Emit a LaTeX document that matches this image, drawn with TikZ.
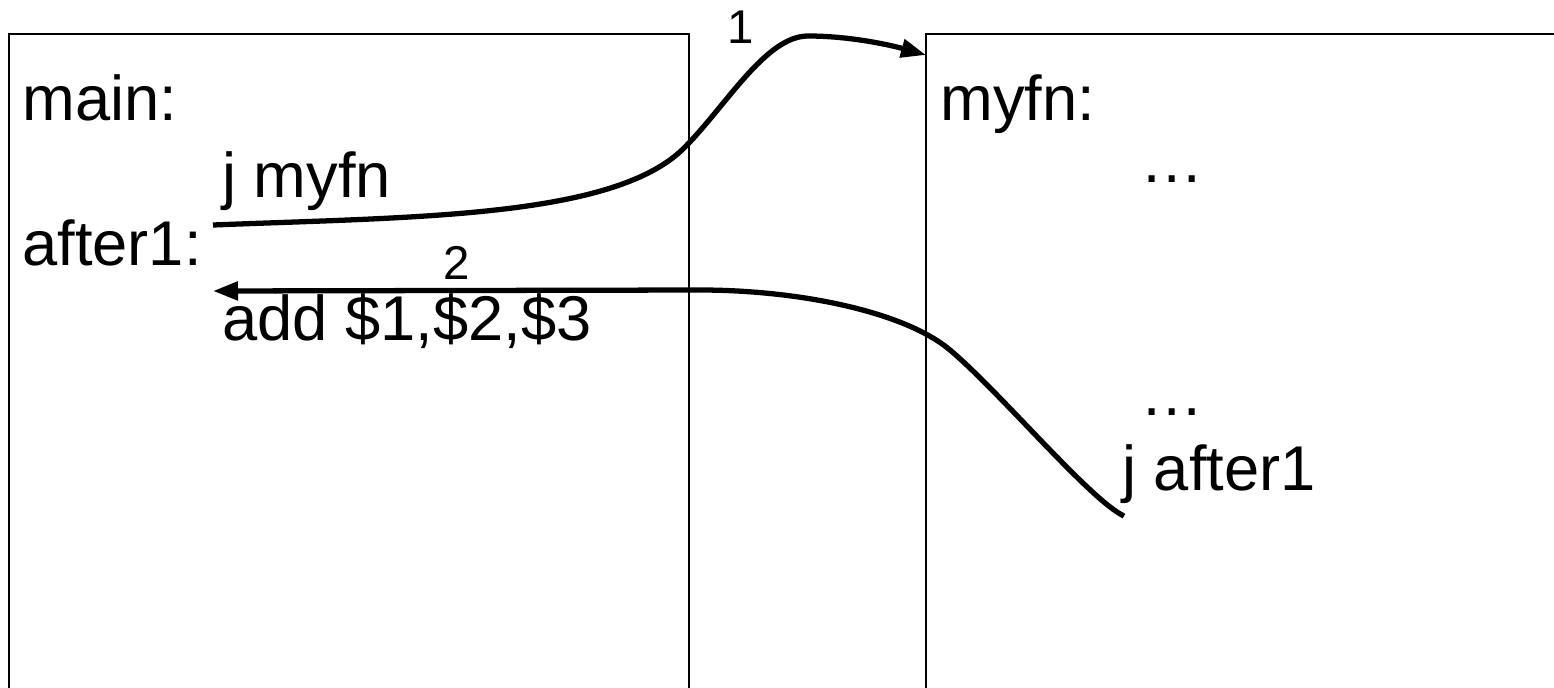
\documentclass[tikz,border=0pt]{standalone}
\usepackage{fontspec}
\setmainfont{Liberation Sans}
\usetikzlibrary{arrows.meta}
\tikzset{
  codebox/.style ={draw, line width=1.1pt},
  codetext/.style={anchor=base west, inner sep=0pt,
                   font=\fontsize{36}{43}\selectfont},
  steplabel/.style={inner sep=0pt, font=\fontsize{27}{32}\selectfont},
  jumparr/.style ={-{Triangle[length=0.5cm,width=0.36cm]}, line width=3pt},
}
\begin{document}
\begin{tikzpicture}[x=0.02cm,y=-0.02cm]
  \useasboundingbox (0,0) rectangle (1554,687);
  \clip (0,0) rectangle (1554,687);
  %% the two code boxes
  \draw[codebox] (9,34) rectangle (689,720);
  \draw[codebox] (926,34) rectangle (1600,720);
  %% caller
  \node[codetext] (main)   at (22,120)  {main:};
  \node[codetext] (jmyfn)  at (222,197) {j myfn};
  \node[codetext] (after)  at (22,265)  {after1:};
  \node[codetext] (add)    at (222,340) {add \$1,\$2,\$3};
  %% callee
  \node[codetext] (myfn)   at (940,120)  {myfn:};
  \node[codetext] (dotsa)  at (1140,182) {…};
  \node[codetext] (dotsb)  at (1140,415) {…};
  \node[codetext] (jafter) at (1122,490) {j after1};
  %% jump ends
  \coordinate (callsite) at (213,225);
  \coordinate (fnentry)  at (926,55);
  \coordinate (retsite)  at (1124,516);
  \coordinate (aftersite) at (213,291);
  \draw[jumparr] (callsite) .. controls (413,217) and (610,218) .. (682,150)
    .. controls (725,108) and (765,36) .. (808,36)
    .. controls (850,36) and (890,45) .. (fnentry);
  \draw[jumparr] (retsite) .. controls (1090,500) and (1000,392) .. (950,350)
    .. controls (905,312) and (800,290) .. (700,290) -- (aftersite);
  \node[steplabel] (one) at (741,27)  {1};
  \node[steplabel] (two) at (457,263) {2};
\end{tikzpicture}
\end{document}
